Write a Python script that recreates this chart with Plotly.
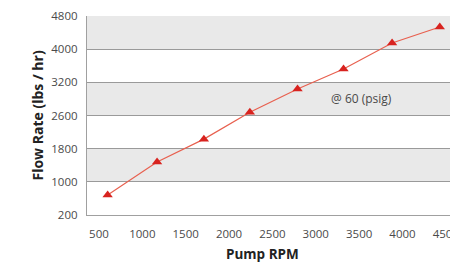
import plotly.graph_objects as go

# Data (y in chart-grid units; labels below are as printed)
pump_rpm = [600, 1170, 1710, 2240, 2790, 3320, 3880, 4430]
flow_rate = [680, 1480, 2030, 2680, 3240, 3720, 4350, 4735]

x_tick_vals = [500, 1000, 1500, 2000, 2500, 3000, 3500, 4000, 4500]
y_tick_vals = [200, 1000, 1800, 2600, 3400, 4200, 5000]
y_tick_text = ["200", "1000", "1800", "2600", "3200", "4000", "4800"]
bands = [(1000, 1800), (2600, 3400), (4200, 5000)]

# The page body adds an 8px offset; size the figure to fill the rest of the window
OFF = 8
W, H = 458 - OFF, 264 - OFF
ML, MR, MT, MB = 87 - OFF, 0, 16 - OFF, 49
pw = W - ML - MR
ph = H - MT - MB

fig = go.Figure()
fig.add_trace(go.Scatter(
    x=pump_rpm, y=flow_rate, mode="lines+markers",
    line=dict(color="#e8604f", width=1.2),
    marker=dict(symbol="triangle-up", size=9, color="#d8231f"),
    showlegend=False, hoverinfo="skip",
))

shapes = []
for y0, y1 in bands:
    shapes.append(dict(type="rect", xref="paper", yref="y", x0=0, x1=1, y0=y0, y1=y1,
                       fillcolor="#e9e9e9", line=dict(width=0), layer="below"))

font_tick = dict(family="Open Sans, Liberation Sans, sans-serif", size=11.5, color="#4a4a4a")

fig.update_layout(
    width=W, height=H,
    margin=dict(l=ML, r=MR, t=MT, b=MB, pad=0, autoexpand=False),
    paper_bgcolor="white", plot_bgcolor="white",
    shapes=shapes,
    xaxis=dict(range=[362, 4640], tickvals=x_tick_vals, showgrid=False, zeroline=False,
               showline=True, linecolor="#a0a0a0", linewidth=1.2, automargin=False,
               ticks="outside", ticklen=8, tickcolor="rgba(0,0,0,0)",
               ticklabeloverflow="allow", tickfont=font_tick),
    yaxis=dict(range=[200, 5000], tickvals=y_tick_vals, ticktext=y_tick_text,
               showgrid=True, gridcolor="#9a9a9a", gridwidth=1.2, zeroline=False,
               showline=True, linecolor="#a0a0a0", linewidth=1.2, automargin=False,
               ticks="outside", ticklen=6, tickcolor="rgba(0,0,0,0)",
               tickfont=font_tick),
    annotations=[
        dict(text="<b>Flow Rate (lbs / hr)</b>", xref="paper", yref="paper",
             x=(37 - 87) / pw, y=0.5, xanchor="center", yanchor="middle", textangle=-90,
             showarrow=False, font=dict(family="Open Sans, Liberation Sans, sans-serif", size=14, color="#222")),
        dict(text="<b>Pump RPM</b>", xref="paper", yref="paper",
             x=(262 - 87) / pw, y=-(254 - 215) / ph, xanchor="center", yanchor="middle",
             showarrow=False, font=dict(family="Open Sans, Liberation Sans, sans-serif", size=13.5, color="#222")),
        dict(text="@ 60 (psig)", xref="x", yref="y", x=3530, y=3020,
             xanchor="center", yanchor="middle", showarrow=False,
             font=dict(family="Open Sans, Liberation Sans, sans-serif", size=12, color="#4a4a4a")),
    ],
)

fig.write_html("out.html")
